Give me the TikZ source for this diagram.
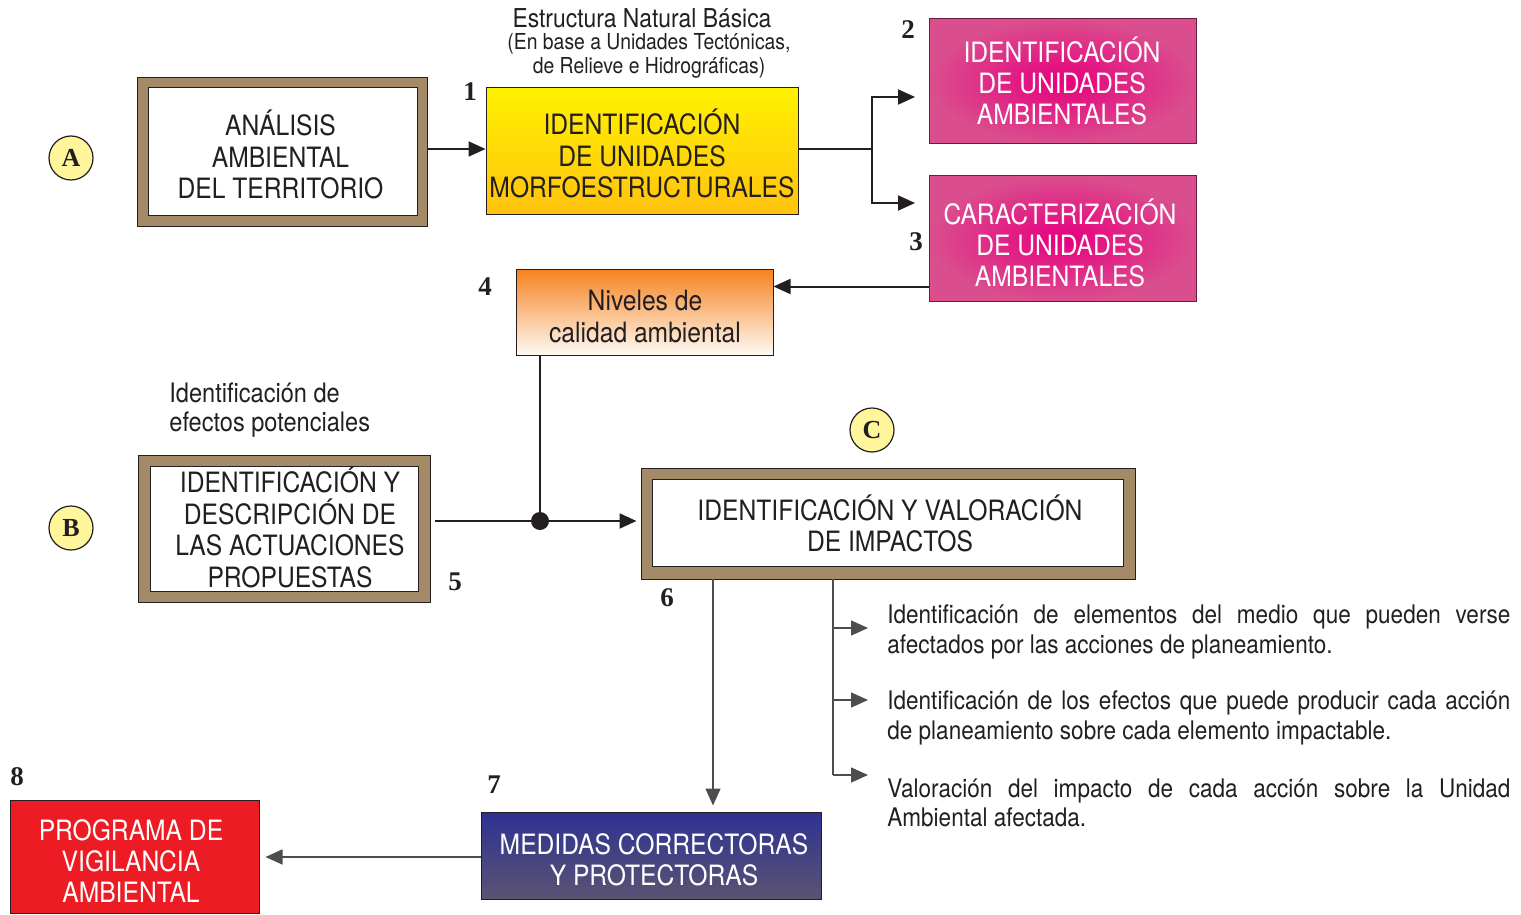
\documentclass[tikz,border=0pt]{standalone}
\usepackage{fontspec}
\setmainfont[FakeStretch=0.88]{TeX Gyre Heros}
\newfontfamily\numfont{Liberation Serif}
\usetikzlibrary{arrows.meta,shadings,calc}
\definecolor{ink}{HTML}{231F20}
\definecolor{grayln}{HTML}{4D4D4F}
\definecolor{brownc}{HTML}{A58A68}
\definecolor{circy}{HTML}{FFF59B}
\definecolor{yeltop}{HTML}{FFF200}
\definecolor{yelbot}{HTML}{FFC20E}
\definecolor{magin}{HTML}{E6007E}
\definecolor{magout}{HTML}{DA4E8E}
\definecolor{magdraw}{HTML}{6D1D45}
\definecolor{orgtop}{HTML}{F5821F}
\definecolor{orgbot}{HTML}{FFFAF4}
\definecolor{bluetop}{HTML}{2E3192}
\definecolor{bluebot}{HTML}{5A5472}
\definecolor{redc}{HTML}{ED1C24}
\tikzset{
  num/.style={font=\numfont\bfseries\fontsize{13.5}{14}\selectfont, text=ink, inner sep=0pt},
  circ/.style={circle, draw=ink, line width=0.6pt, fill=circy, minimum size=22pt, inner sep=0pt,
    font=\numfont\bfseries\fontsize{13}{13}\selectfont, text=ink},
  btxt/.style={align=center, font=\fontsize{14}{15.7}\selectfont, text=ink, inner sep=0pt},
  wtxt/.style={align=center, font=\fontsize{14}{15.7}\selectfont, text=white, inner sep=0pt},
  outerframe/.style={draw=ink, fill=brownc, line width=0.5pt, inner sep=0pt},
  innerframe/.style={draw=ink, fill=white, line width=0.5pt, inner sep=0pt},
  plainbox/.style={draw=ink, line width=0.5pt, inner sep=0pt},
  ln/.style={draw=ink, line width=1pt},
  lng/.style={draw=grayln, line width=0.7pt},
  conn/.style={ln, -{Triangle[length=8.5pt,width=7.5pt]}},
  conng/.style={lng, -{Triangle[length=8.5pt,width=7.5pt]}},
  desc/.style={align=left, font=\fontsize{12.8}{14.6}\selectfont, text=ink, inner sep=0pt},
}
\begin{document}
\begin{tikzpicture}[x=0.5pt,y=-0.5pt]
\useasboundingbox (0,0) rectangle (1521,915);

% circles
\node[circ] (cA) at (71,158) {A};
\node[circ] (cB) at (71,528) {B};
\node[circ] (cC) at (872,430) {C};

% numbers
\node[num] (n1) at (470,92) {1};
\node[num] (n2) at (908,30) {2};
\node[num] (n3) at (916,242) {3};
\node[num] (n4) at (485,287) {4};
\node[num] (n5) at (455,582) {5};
\node[num] (n6) at (667,598) {6};
\node[num] (n7) at (494,785) {7};
\node[num] (n8) at (17,777) {8};

% box A
\node[outerframe, minimum width=145pt, minimum height=74pt] (anA) at (282,152) {};
\node[innerframe, minimum width=134.5pt, minimum height=63.5pt] (anAin) at (282.5,151.5) {};
\node[btxt] (anAt) at (280.5,154.5) {ANÁLISIS\\AMBIENTAL\\DEL TERRITORIO};

% yellow box
\node[plainbox, top color=yeltop, bottom color=yelbot, minimum width=156pt, minimum height=63pt] (yel) at (642,151) {};
\node[btxt] (yelt) at (642,153.5) {IDENTIFICACIÓN\\DE UNIDADES\\MORFOESTRUCTURALES};

% top note
\node[font=\fontsize{13}{14}\selectfont, text=ink, inner sep=0pt] (est) at (642,18) {Estructura Natural Básica};
\node[font=\fontsize{11}{12}\selectfont, text=ink, inner sep=0pt, align=center] (estb) at (649,56)
  {(En base a Unidades Tectónicas,\\de Relieve e Hidrográficas)};

% magenta boxes
\node[plainbox, draw=magdraw, inner color=magin, outer color=magout, minimum width=133.5pt, minimum height=62.5pt] (m2) at (1062.5,81.5) {};
\node[wtxt] (m2t) at (1062,81) {IDENTIFICACIÓN\\DE UNIDADES\\AMBIENTALES};
\node[plainbox, draw=magdraw, inner color=magin, outer color=magout, minimum width=133.5pt, minimum height=62.5pt] (m3) at (1062.5,238.5) {};
\node[wtxt] (m3t) at (1060,243) {CARACTERIZACIÓN\\DE UNIDADES\\AMBIENTALES};

% niveles
\node[plainbox, top color=orgtop, bottom color=orgbot, minimum width=128.5pt, minimum height=43pt] (niv) at (644.5,312) {};
\node[btxt] (nivt) at (645,316.5) {Niveles de\\calidad ambiental};

% box B
\node[outerframe, minimum width=146pt, minimum height=73.5pt] (bxB) at (284,528.5) {};
\node[innerframe, minimum width=134pt, minimum height=62.5pt] (bxBin) at (284,528.5) {};
\node[btxt] (bxBt) at (290,527.5) {IDENTIFICACIÓN Y\\DESCRIPCIÓN DE\\LAS ACTUACIONES\\PROPUESTAS};

\node[desc, font=\fontsize{13.4}{14.6}\selectfont, anchor=west] (efp) at (169,410) {Identificación de\\efectos potenciales};

% box C
\node[outerframe, minimum width=247pt, minimum height=55.5pt] (impC) at (888,523.5) {};
\node[innerframe, minimum width=235.5pt, minimum height=43.5pt] (impCin) at (887.5,522.5) {};
\node[btxt] (impCt) at (890,523.5) {IDENTIFICACIÓN Y VALORACIÓN\\DE IMPACTOS};

% box 7
\node[plainbox, top color=bluetop, bottom color=bluebot, minimum width=170pt, minimum height=43.5pt] (med) at (651,855.5) {};
\node[wtxt] (medt) at (654,860) {MEDIDAS CORRECTORAS\\Y PROTECTORAS};

% box 8
\node[plainbox, draw=ink, fill=redc, minimum width=124.5pt, minimum height=56.5pt] (prog) at (134.5,856.5) {};
\node[wtxt] (progt) at (131,861) {PROGRAMA DE\\VIGILANCIA\\AMBIENTAL};

% descriptions
\node[desc, anchor=west] (d1) at (887,632)
  {\makebox[311.5pt][s]{Identificación de elementos del medio que pueden verse}\\
   \makebox[311.5pt][l]{afectados por las acciones de planeamiento.}};
\node[desc, anchor=west] (d2) at (887,718)
  {\makebox[311.5pt][s]{Identificación de los efectos que puede producir cada acción}\\
   \makebox[311.5pt][l]{de planeamiento sobre cada elemento impactable.}};
\node[desc, anchor=west] (d3) at (887,803)
  {\makebox[311.5pt][s]{Valoración del impacto de cada acción sobre la Unidad}\\
   \makebox[311.5pt][l]{Ambiental afectada.}};

% connectors
\draw[conn] (anA.east |- 0,149) -- (yel.west |- 0,149);
\coordinate (br) at (872,149);
\coordinate (t2) at (915,97);
\coordinate (t3) at (915,203);
\draw[ln] (yel.east |- br) -- (br);
\draw[conn] (br) |- (t2);
\draw[conn] (br) |- (t3);

\coordinate (a3) at ([yshift=7.5pt]m3.south west);
\draw[conn] (a3) -- (a3 -| niv.east);

\node[circle, fill=ink, minimum size=9pt, inner sep=0pt] (dot) at (540,521) {};
\draw[ln] (niv.south -| dot) -- (dot);
\draw[ln] (bxB.east |- dot) ++(2pt,0) -- (dot);
\draw[conn] (dot) -- ([xshift=-2pt]dot -| impC.west);

\coordinate (c6) at (713,579);
\draw[conng] (c6) -- ([yshift=3pt]c6 |- med.north);

\coordinate (c7) at (833,579);
\coordinate (e1) at (868,628);
\coordinate (e2) at (868,700);
\coordinate (e3) at (868,775);
\draw[lng] (c7) -- (c7 |- e3);
\draw[conng] (c7 |- e1) -- (e1);
\draw[conng] (c7 |- e2) -- (e2);
\draw[conng] (c7 |- e3) -- (e3);

\coordinate (a8) at (med.west |- 0,857);
\draw[conng] (a8) -- ([xshift=3pt]a8 -| prog.east);
\end{tikzpicture}
\end{document}
